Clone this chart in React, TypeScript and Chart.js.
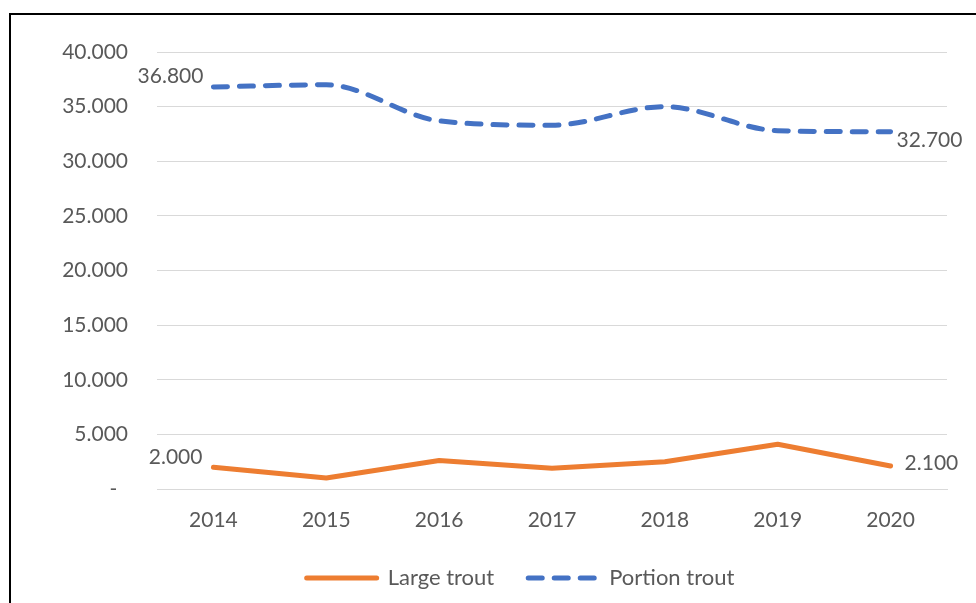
import React, { useEffect, useRef } from "react";
import { Chart, registerables } from "chart.js";

Chart.register(...registerables);

const categories = ["2014", "2015", "2016", "2017", "2018", "2019", "2020"];
const largeTrout = [2000, 1000, 2600, 1900, 2500, 4100, 2100];
const portionTrout = [36800, 37000, 33700, 33300, 35000, 32800, 32700];
const seriesNames = ["Large trout", "Portion trout"];
const yTicks = [0, 5000, 10000, 15000, 20000, 25000, 30000, 35000, 40000];

const TEXT = "#595959";
const FONT = "Lato";

const fmt = (v: number) =>
  Math.round(v)
    .toString()
    .replace(/\B(?=(\d{3})+(?!\d))/g, ".");

// first and last point labels: [datasetIndex, pointIndex, align, dx, dy]
const labelSpecs: [number, number, CanvasTextAlign, number, number][] = [
  [1, 0, "right", -10, -11],
  [1, 6, "left", 6, 8],
  [0, 0, "right", -11, -10],
  [0, 6, "left", 14, -3],
];

const endLabels = {
  id: "endLabels",
  afterDatasetsDraw(chart: any) {
    const ctx = chart.ctx;
    ctx.save();
    ctx.font = `21px ${FONT}`;
    ctx.fillStyle = TEXT;
    ctx.textBaseline = "middle";
    for (const [di, pi, align, dx, dy] of labelSpecs) {
      const pt = chart.getDatasetMeta(di).data[pi];
      const v = chart.data.datasets[di].data[pi] as number;
      ctx.textAlign = align;
      ctx.fillText(fmt(v), pt.x + dx, pt.y + dy);
    }
    ctx.restore();
  },
};

const legendShift = {
  id: "legendShift",
  afterLayout(chart: any) {
    if (chart.legend) {
      chart.legend.left += 47;
      chart.legend.right += 47;
    }
  },
};

export default function App() {
  const ref = useRef<HTMLCanvasElement>(null);

  useEffect(() => {
    if (!ref.current) return;
    const chart = new Chart(ref.current, {
      type: "line",
      data: {
        labels: categories,
        datasets: [
          {
            label: seriesNames[0],
            data: largeTrout,
            borderColor: "#ED7D31",
            backgroundColor: "#ED7D31",
            borderWidth: 5,
            borderCapStyle: "round",
            borderJoinStyle: "round",
            pointRadius: 0,
            tension: 0,
          },
          {
            label: seriesNames[1],
            data: portionTrout,
            borderColor: "#4472C4",
            backgroundColor: "#4472C4",
            borderWidth: 5,
            borderDash: [14, 12],
            borderCapStyle: "round",
            borderJoinStyle: "round",
            pointRadius: 0,
            cubicInterpolationMode: "monotone",
          },
        ],
      },
      options: {
        responsive: false,
        animation: false,
        devicePixelRatio: 1,
        layout: { padding: { top: 52, right: 29, left: 0, bottom: 0 } },
        plugins: {
          tooltip: { enabled: false },
          legend: {
            position: "bottom",
            labels: {
              usePointStyle: true,
              pointStyle: "line",
              pointStyleWidth: 70,
              boxHeight: 21,
              padding: 34,
              color: TEXT,
              font: { family: FONT, size: 22 },
              generateLabels(chart: any) {
                const items = Chart.defaults.plugins.legend.labels.generateLabels(chart);
                return items.map((it: any) => {
                  const ds: any = chart.data.datasets[it.datasetIndex];
                  return {
                    ...it,
                    lineDash: ds.borderDash || [],
                    lineCap: "round",
                    lineWidth: ds.borderWidth,
                    strokeStyle: ds.borderColor,
                    fillStyle: ds.borderColor,
                    pointStyle: "line",
                  };
                });
              },
            },
          },
        },
        scales: {
          x: {
            offset: true,
            grid: { display: false, drawTicks: false },
            border: { display: true, color: "#D9D9D9", width: 1 },
            ticks: {
              padding: 19,
              color: TEXT,
              font: { family: FONT, size: 21 },
              maxRotation: 0,
            },
            afterFit(scale: any) {
              scale.height = 44;
            },
          },
          y: {
            min: 0,
            max: 40000,
            border: { display: false },
            grid: { color: "#D9D9D9", lineWidth: 1, drawTicks: false },
            afterBuildTicks(scale: any) {
              scale.ticks = yTicks.map((v) => ({ value: v }));
            },
            ticks: {
              padding: 29,
              color: TEXT,
              font: { family: FONT, size: 21 },
              callback: (v: any) => (Number(v) === 0 ? "-  " : fmt(Number(v))),
            },
            afterFit(scale: any) {
              scale.width = 157;
            },
          },
        },
      },
      plugins: [endLabels, legendShift],
    });
    return () => chart.destroy();
  }, []);

  return (
    <div
      style={{
        position: "fixed",
        left: 0,
        top: 0,
        width: 976,
        height: 603,
        overflow: "hidden",
        background: "#fff",
      }}
    >
      <canvas ref={ref} width={976} height={599} style={{ display: "block" }} />
      <div
        style={{
          position: "absolute",
          left: 9,
          top: 13,
          width: 1200,
          height: 1200,
          borderTop: "2px solid #000",
          borderLeft: "2px solid #000",
          pointerEvents: "none",
        }}
      />
    </div>
  );
}
